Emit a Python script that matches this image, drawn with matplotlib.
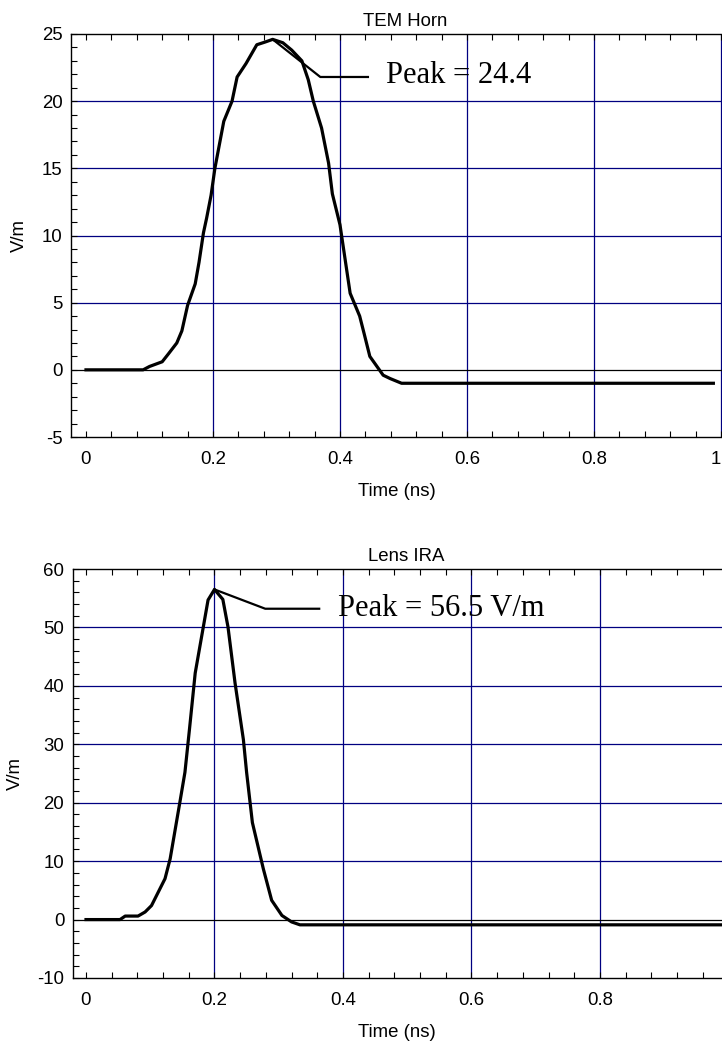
import matplotlib.pyplot as plt
import numpy as np
from matplotlib.ticker import MultipleLocator

# TEM Horn waveform
horn_t = [0.0, 0.09, 0.10, 0.12, 0.13, 0.143, 0.151, 0.16, 0.172, 0.178, 0.185,
          0.19, 0.197, 0.203, 0.217, 0.23, 0.238, 0.252, 0.269, 0.282, 0.294,
          0.31, 0.324, 0.34, 0.35, 0.358, 0.371, 0.382, 0.388, 0.40, 0.416,
          0.431, 0.438, 0.447, 0.468, 0.479, 0.497, 0.988]
horn_v = [0.0, 0.0, 0.25, 0.6, 1.2, 2.0, 2.9, 4.8, 6.4, 8.0, 10.2,
          11.3, 13.0, 15.0, 18.5, 20.0, 21.8, 22.8, 24.2, 24.4, 24.6,
          24.35, 23.8, 23.0, 21.6, 20.0, 18.0, 15.4, 13.1, 10.8, 5.7,
          4.0, 2.7, 1.0, -0.4, -0.65, -1.0, -1.0]

# Lens IRA waveform
ira_t = [0.0, 0.053, 0.061, 0.081, 0.092, 0.102, 0.123, 0.131, 0.146, 0.154,
         0.161, 0.17, 0.19, 0.2, 0.213, 0.221, 0.232, 0.245, 0.25, 0.259,
         0.276, 0.289, 0.305, 0.32, 0.333, 1.0]
ira_v = [0.0, 0.0, 0.6, 0.6, 1.3, 2.4, 7.0, 10.4, 20.0, 25.2,
         32.5, 42.2, 54.7, 56.5, 54.8, 50.1, 40.5, 30.8, 25.2, 16.6,
         8.7, 3.3, 0.7, -0.4, -0.9, -0.9]

panels = [
    dict(title="TEM Horn", t=horn_t, v=horn_v, label="Peak = 24.4",
         xlim=(-0.0236, 1.0016), ylim=(-5, 25), ystep=5, yminor=1,
         xticks=[0, 0.2, 0.4, 0.6, 0.8, 1.0], xticklabels=["0", "0.2", "0.4", "0.6", "0.8", "1"],
         rect=[71 / 722, 1 - 437 / 1044, 651 / 722, 403 / 1044],
         elbow=(0.075, -2.8, 0.075), text_dx=0.178, text_dy=-3.25),
    dict(title="Lens IRA", t=ira_t, v=ira_v, label="Peak = 56.5 V/m",
         xlim=(-0.0207, 0.99), ylim=(-10, 60), ystep=10, yminor=2,
         xticks=[0, 0.2, 0.4, 0.6, 0.8], xticklabels=["0", "0.2", "0.4", "0.6", "0.8"],
         rect=[72.7 / 722, 1 - 978 / 1044, 649.3 / 722, 409 / 1044],
         elbow=(0.079, -3.3, 0.084), text_dx=0.192, text_dy=-4.5),
]

plt.rcParams['font.family'] = ['Liberation Sans', 'DejaVu Sans']
plt.rcParams['axes.unicode_minus'] = False
fig = plt.figure(figsize=(7.22, 10.44), dpi=100)
navy = "#000080"
fs = 13.4

for p in panels:
    ax = fig.add_axes(p["rect"])
    ax.set_xlim(*p["xlim"])
    ax.set_ylim(*p["ylim"])
    ax.set_xticks(p["xticks"])
    ax.set_xticklabels(p["xticklabels"])
    # last label sits on the figure edge; keep it inside
    if p["xticklabels"][-1] == "1":
        ax.get_xticklabels()[-1].set_ha("right")
    ax.yaxis.set_major_locator(MultipleLocator(p["ystep"]))
    ax.yaxis.set_minor_locator(MultipleLocator(p["yminor"]))
    ax.xaxis.set_minor_locator(MultipleLocator(0.04))
    ax.tick_params(axis="both", which="both", direction="in", length=4, width=0.8,
                   top=True, right=False, labelsize=fs)
    ax.tick_params(axis="x", which="major", pad=10)
    ax.tick_params(axis="y", which="major", pad=6)

    # grid
    for xv in p["xticks"][1:]:
        ax.axvline(xv, color=navy, lw=0.9, zorder=1)
    for yv in np.arange(p["ylim"][0] + p["ystep"], p["ylim"][1], p["ystep"]):
        ax.axhline(yv, color="black" if yv == 0 else navy, lw=0.9, zorder=1)

    for side in ["left", "bottom", "top"]:
        ax.spines[side].set_linewidth(1.0)
    ax.spines["right"].set_visible(False)

    ax.plot(p["t"], p["v"], color="black", lw=2.3, zorder=3)

    # peak call-out
    i = int(np.argmax(p["v"]))
    tp, vp = p["t"][i], p["v"][i]
    dx1, dy, dx2 = p["elbow"]
    ax.plot([tp, tp + dx1, tp + dx1 + dx2], [vp, vp + dy, vp + dy],
            color="black", lw=1.6, zorder=3, clip_on=False)
    ax.text(tp + p["text_dx"], vp + p["text_dy"], p["label"], fontsize=22,
            family=["Liberation Serif", "DejaVu Serif"], va="baseline", ha="left")

    ax.set_title(p["title"], fontsize=fs, x=0.513, pad=6)
    ax.set_xlabel("Time (ns)", fontsize=fs, labelpad=11)
    ax.set_ylabel("V/m", fontsize=fs, labelpad=10)

fig.savefig("out.png", dpi=100)
